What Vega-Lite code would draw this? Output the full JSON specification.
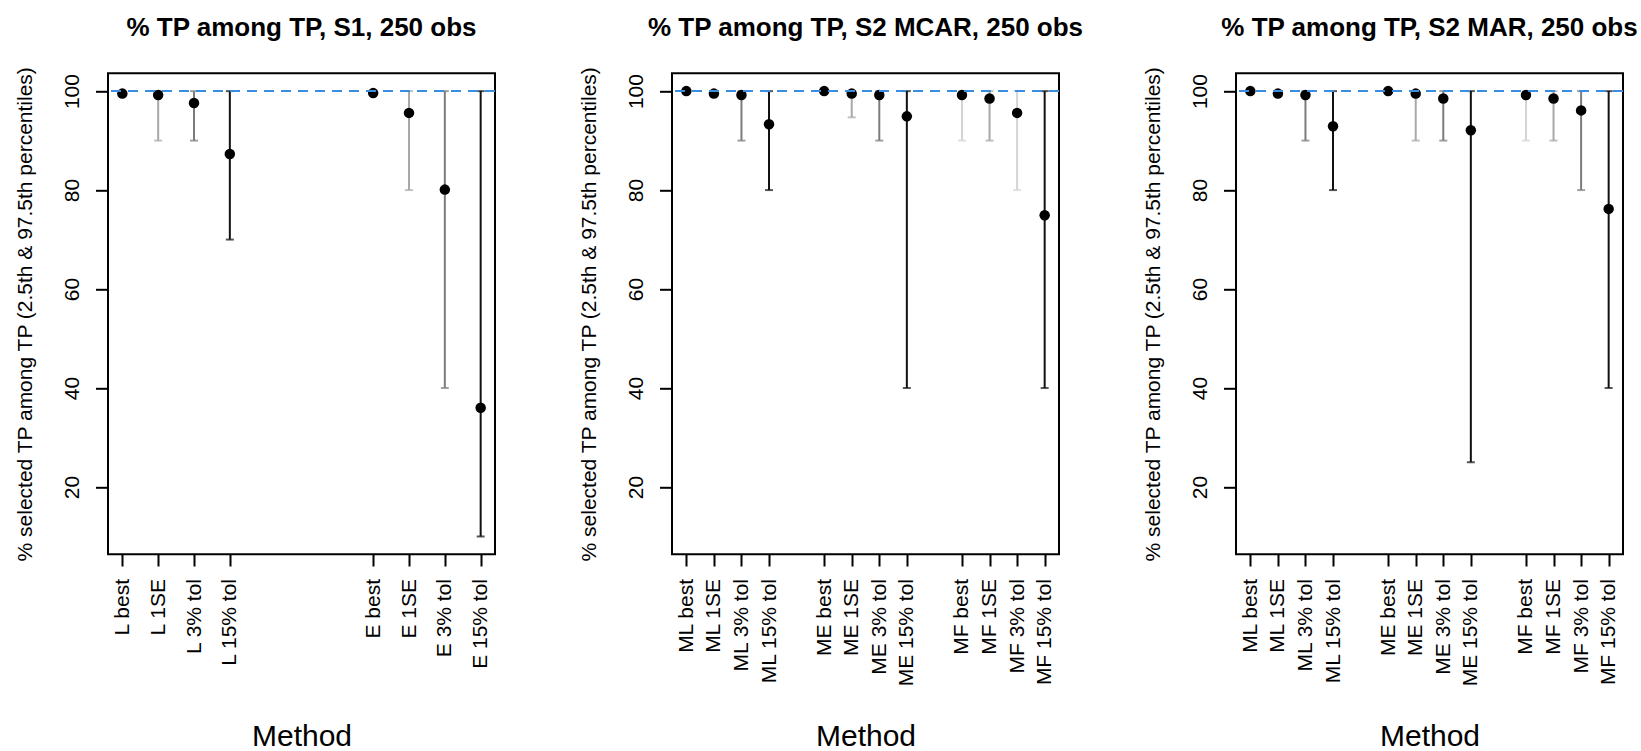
{
  "$schema": "https://vega.github.io/schema/vega-lite/v6.json",
  "padding": {"left": 13, "top": 13.3, "right": 0, "bottom": 0},
  "background": "#ffffff",
  "bounds": "flush",
  "spacing": 177,
  "config": {
    "font": "Liberation Sans",
    "view": {"stroke": "#000000", "strokeWidth": 2},
    "title": {"font": "Liberation Sans", "fontSize": 26, "fontWeight": "bold", "color": "#000000", "anchor": "middle", "frame": "group", "baseline": "alphabetic", "offset": 24.5},
    "axis": {"labelFont": "Liberation Sans", "titleFont": "Liberation Sans", "labelColor": "#000000", "titleColor": "#000000", "tickColor": "#000000", "tickWidth": 2, "domain": false, "grid": false, "titleFontWeight": "normal"},
    "axisY": {"labelFontSize": 21, "labelAngle": 270, "labelAlign": "center", "labelBaseline": "alphabetic", "tickSize": 12.5, "labelPadding": 17, "titleFontSize": 21, "titleAngle": 270, "titleAlign": "center", "titleBaseline": "alphabetic", "titleX": -76.5, "titleY": 240.5},
    "axisX": {"labelFontSize": 21, "labelAngle": 270, "labelAlign": "right", "labelBaseline": "middle", "tickSize": 11.7, "labelPadding": 12.5, "labelOverlap": false, "titleFontSize": 30, "titleAlign": "center", "titleBaseline": "alphabetic", "titleX": 193.5, "titleY": 191.7}
  },
  "datasets": {
    "s1": [
      {"method": "L best", "est": 99.5, "lo": null, "hi": null, "shade": "dark"},
      {"method": "L 1SE", "est": 99.2, "lo": 90, "hi": 100, "shade": "light"},
      {"method": "L 3% tol", "est": 97.6, "lo": 90, "hi": 100, "shade": "mid"},
      {"method": "L 15% tol", "est": 87.3, "lo": 70, "hi": 100, "shade": "dark"},
      {"method": "E best", "est": 99.6, "lo": null, "hi": null, "shade": "dark"},
      {"method": "E 1SE", "est": 95.6, "lo": 80, "hi": 100, "shade": "light"},
      {"method": "E 3% tol", "est": 80.1, "lo": 40, "hi": 100, "shade": "mid"},
      {"method": "E 15% tol", "est": 36.0, "lo": 10, "hi": 100, "shade": "dark"}
    ],
    "mcar": [
      {"method": "ML best", "est": 100, "lo": null, "hi": null, "shade": "dark"},
      {"method": "ML 1SE", "est": 99.5, "lo": null, "hi": null, "shade": "dark"},
      {"method": "ML 3% tol", "est": 99.2, "lo": 90, "hi": 100, "shade": "mid"},
      {"method": "ML 15% tol", "est": 93.3, "lo": 80, "hi": 100, "shade": "dark"},
      {"method": "ME best", "est": 100, "lo": null, "hi": null, "shade": "dark"},
      {"method": "ME 1SE", "est": 99.5, "lo": 94.7, "hi": 100, "shade": "light"},
      {"method": "ME 3% tol", "est": 99.2, "lo": 90, "hi": 100, "shade": "mid"},
      {"method": "ME 15% tol", "est": 94.9, "lo": 40, "hi": 100, "shade": "dark"},
      {"method": "MF best", "est": 99.2, "lo": 90, "hi": 100, "shade": "faint"},
      {"method": "MF 1SE", "est": 98.5, "lo": 90, "hi": 100, "shade": "light"},
      {"method": "MF 3% tol", "est": 95.6, "lo": 80, "hi": 100, "shade": "faint"},
      {"method": "MF 15% tol", "est": 74.9, "lo": 40, "hi": 100, "shade": "dark"}
    ],
    "mar": [
      {"method": "ML best", "est": 100, "lo": null, "hi": null, "shade": "dark"},
      {"method": "ML 1SE", "est": 99.5, "lo": null, "hi": null, "shade": "dark"},
      {"method": "ML 3% tol", "est": 99.2, "lo": 90, "hi": 100, "shade": "mid"},
      {"method": "ML 15% tol", "est": 92.9, "lo": 80, "hi": 100, "shade": "dark"},
      {"method": "ME best", "est": 100, "lo": null, "hi": null, "shade": "dark"},
      {"method": "ME 1SE", "est": 99.5, "lo": 90, "hi": 100, "shade": "light"},
      {"method": "ME 3% tol", "est": 98.5, "lo": 90, "hi": 100, "shade": "mid"},
      {"method": "ME 15% tol", "est": 92.1, "lo": 25, "hi": 100, "shade": "dark"},
      {"method": "MF best", "est": 99.2, "lo": 90, "hi": 100, "shade": "faint"},
      {"method": "MF 1SE", "est": 98.5, "lo": 90, "hi": 100, "shade": "light"},
      {"method": "MF 3% tol", "est": 96.1, "lo": 80, "hi": 100, "shade": "mid"},
      {"method": "MF 15% tol", "est": 76.2, "lo": 40, "hi": 100, "shade": "dark"}
    ],
    "ref": [{"level": 100}]
  },
  "hconcat": [
    {
      "title": "% TP among TP, S1, 250 obs",
      "width": 387, "height": 481,
      "layer": [
        {"data": {"name": "s1"}, "mark": {"type": "rule", "strokeWidth": 2},
         "encoding": {
           "x": {"field": "method", "type": "nominal", "scale": {"type": "point", "domain": ["L best", "L 1SE", "L 3% tol", "L 15% tol", " ", "  ", "   ", "E best", "E 1SE", "E 3% tol", "E 15% tol"], "padding": 0.4}, "axis": {"values": ["L best", "L 1SE", "L 3% tol", "L 15% tol", "E best", "E 1SE", "E 3% tol", "E 15% tol"], "title": "Method"}},
           "y": {"field": "lo", "type": "quantitative", "scale": {"domain": [6.4, 103.6], "nice": false, "zero": false}, "axis": {"values": [20, 40, 60, 80, 100], "title": "% selected TP among TP (2.5th & 97.5th percentiles)"}},
           "y2": {"field": "hi"},
           "color": {"field": "shade", "type": "nominal", "scale": {"domain": ["faint", "light", "mid", "dark"], "range": ["#d4d4d4", "#a8a8a8", "#7c7c7c", "#111111"]}, "legend": null}
         }},
        {"data": {"name": "s1"}, "mark": {"type": "tick", "orient": "horizontal", "size": 8, "thickness": 2},
         "encoding": {"x": {"field": "method", "type": "nominal"}, "y": {"field": "lo", "type": "quantitative"}, "color": {"field": "shade", "type": "nominal", "legend": null}}},
        {"data": {"name": "s1"}, "mark": {"type": "tick", "orient": "horizontal", "size": 8, "thickness": 2},
         "encoding": {"x": {"field": "method", "type": "nominal"}, "y": {"field": "hi", "type": "quantitative"}, "color": {"field": "shade", "type": "nominal", "legend": null}}},
        {"data": {"name": "s1"}, "mark": {"type": "point", "filled": true, "size": 110, "color": "#000000", "opacity": 1},
         "encoding": {"x": {"field": "method", "type": "nominal"}, "y": {"field": "est", "type": "quantitative"}}},
        {"data": {"name": "ref"}, "mark": {"type": "rule", "color": "#3b8de0", "strokeDash": [10, 7], "strokeWidth": 2},
         "encoding": {"y": {"field": "level", "type": "quantitative"}}}
      ]
    },
    {
      "title": "% TP among TP, S2 MCAR, 250 obs",
      "width": 387, "height": 481,
      "layer": [
        {"data": {"name": "mcar"}, "mark": {"type": "rule", "strokeWidth": 2},
         "encoding": {
           "x": {"field": "method", "type": "nominal", "scale": {"type": "point", "domain": ["ML best", "ML 1SE", "ML 3% tol", "ML 15% tol", " ", "ME best", "ME 1SE", "ME 3% tol", "ME 15% tol", "  ", "MF best", "MF 1SE", "MF 3% tol", "MF 15% tol"], "padding": 0.52}, "axis": {"values": ["ML best", "ML 1SE", "ML 3% tol", "ML 15% tol", "ME best", "ME 1SE", "ME 3% tol", "ME 15% tol", "MF best", "MF 1SE", "MF 3% tol", "MF 15% tol"], "title": "Method"}},
           "y": {"field": "lo", "type": "quantitative", "scale": {"domain": [6.4, 103.6], "nice": false, "zero": false}, "axis": {"values": [20, 40, 60, 80, 100], "title": "% selected TP among TP (2.5th & 97.5th percentiles)"}},
           "y2": {"field": "hi"},
           "color": {"field": "shade", "type": "nominal", "scale": {"domain": ["faint", "light", "mid", "dark"], "range": ["#d4d4d4", "#a8a8a8", "#7c7c7c", "#111111"]}, "legend": null}
         }},
        {"data": {"name": "mcar"}, "mark": {"type": "tick", "orient": "horizontal", "size": 8, "thickness": 2},
         "encoding": {"x": {"field": "method", "type": "nominal"}, "y": {"field": "lo", "type": "quantitative"}, "color": {"field": "shade", "type": "nominal", "legend": null}}},
        {"data": {"name": "mcar"}, "mark": {"type": "tick", "orient": "horizontal", "size": 8, "thickness": 2},
         "encoding": {"x": {"field": "method", "type": "nominal"}, "y": {"field": "hi", "type": "quantitative"}, "color": {"field": "shade", "type": "nominal", "legend": null}}},
        {"data": {"name": "mcar"}, "mark": {"type": "point", "filled": true, "size": 110, "color": "#000000", "opacity": 1},
         "encoding": {"x": {"field": "method", "type": "nominal"}, "y": {"field": "est", "type": "quantitative"}}},
        {"data": {"name": "ref"}, "mark": {"type": "rule", "color": "#3b8de0", "strokeDash": [10, 7], "strokeWidth": 2},
         "encoding": {"y": {"field": "level", "type": "quantitative"}}}
      ]
    },
    {
      "title": "% TP among TP, S2 MAR, 250 obs",
      "width": 387, "height": 481,
      "layer": [
        {"data": {"name": "mar"}, "mark": {"type": "rule", "strokeWidth": 2},
         "encoding": {
           "x": {"field": "method", "type": "nominal", "scale": {"type": "point", "domain": ["ML best", "ML 1SE", "ML 3% tol", "ML 15% tol", " ", "ME best", "ME 1SE", "ME 3% tol", "ME 15% tol", "  ", "MF best", "MF 1SE", "MF 3% tol", "MF 15% tol"], "padding": 0.52}, "axis": {"values": ["ML best", "ML 1SE", "ML 3% tol", "ML 15% tol", "ME best", "ME 1SE", "ME 3% tol", "ME 15% tol", "MF best", "MF 1SE", "MF 3% tol", "MF 15% tol"], "title": "Method"}},
           "y": {"field": "lo", "type": "quantitative", "scale": {"domain": [6.4, 103.6], "nice": false, "zero": false}, "axis": {"values": [20, 40, 60, 80, 100], "title": "% selected TP among TP (2.5th & 97.5th percentiles)"}},
           "y2": {"field": "hi"},
           "color": {"field": "shade", "type": "nominal", "scale": {"domain": ["faint", "light", "mid", "dark"], "range": ["#d4d4d4", "#a8a8a8", "#7c7c7c", "#111111"]}, "legend": null}
         }},
        {"data": {"name": "mar"}, "mark": {"type": "tick", "orient": "horizontal", "size": 8, "thickness": 2},
         "encoding": {"x": {"field": "method", "type": "nominal"}, "y": {"field": "lo", "type": "quantitative"}, "color": {"field": "shade", "type": "nominal", "legend": null}}},
        {"data": {"name": "mar"}, "mark": {"type": "tick", "orient": "horizontal", "size": 8, "thickness": 2},
         "encoding": {"x": {"field": "method", "type": "nominal"}, "y": {"field": "hi", "type": "quantitative"}, "color": {"field": "shade", "type": "nominal", "legend": null}}},
        {"data": {"name": "mar"}, "mark": {"type": "point", "filled": true, "size": 110, "color": "#000000", "opacity": 1},
         "encoding": {"x": {"field": "method", "type": "nominal"}, "y": {"field": "est", "type": "quantitative"}}},
        {"data": {"name": "ref"}, "mark": {"type": "rule", "color": "#3b8de0", "strokeDash": [10, 7], "strokeWidth": 2},
         "encoding": {"y": {"field": "level", "type": "quantitative"}}}
      ]
    }
  ]
}
